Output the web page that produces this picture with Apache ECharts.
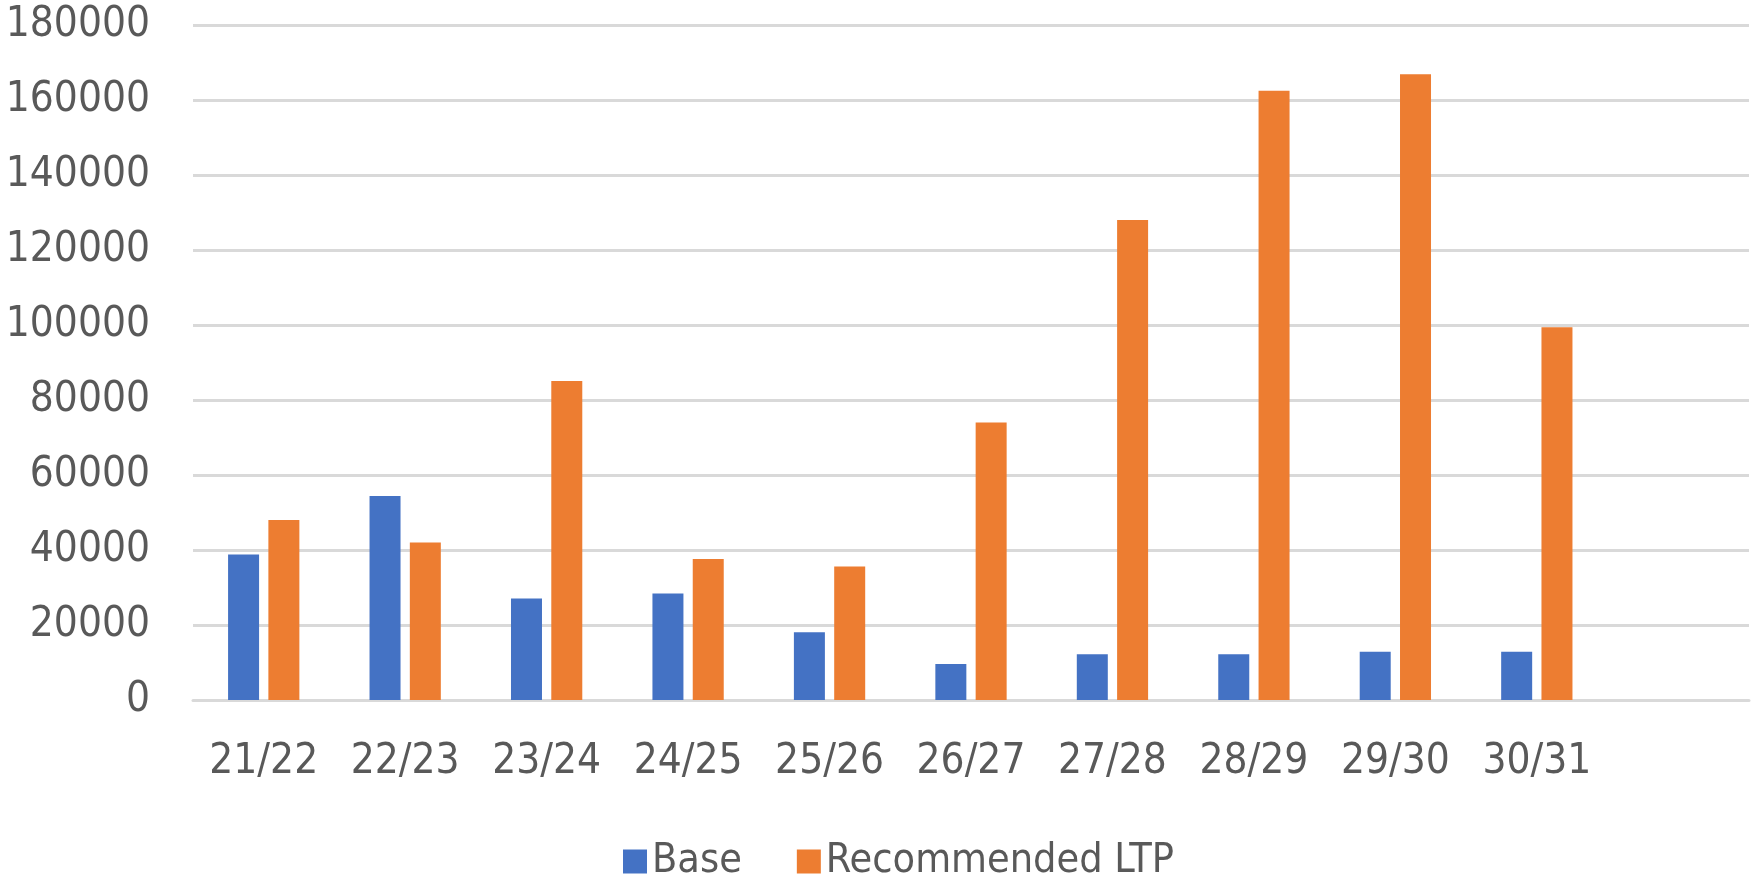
<!DOCTYPE html>
<html>
<head>
<meta charset="utf-8">
<script src="https://cdn.jsdelivr.net/npm/echarts@6/dist/echarts.min.js"></script>
<style>html,body{margin:0;padding:0;background:#fff}#c{width:1758px;height:878px}</style>
</head>
<body>
<div id="c"></div>
<script>
const categories = ['21/22','22/23','23/24','24/25','25/26','26/27','27/28','28/29','29/30','30/31',''];
const baseValues = [38800, 54400, 27100, 28400, 18100, 9600, 12200, 12200, 12900, 12900];
const ltpValues = [48000, 42000, 85100, 37600, 35600, 74000, 128000, 162500, 166900, 99400];
const seriesNames = ['Base', 'Recommended LTP'];
const yTicks = {min: 0, max: 180000, interval: 20000};

const FONT = '"DejaVu Sans Condensed", "Liberation Sans Narrow", "Liberation Sans", sans-serif';
const chart = echarts.init(document.getElementById('c'), null, {renderer: 'canvas'});
chart.setOption({
  animation: false,
  backgroundColor: '#ffffff',
  grid: {left: 193, right: 9, top: 25, bottom: 178, containLabel: false},
  legend: {
    data: seriesNames,
    left: 618, top: 836,
    itemWidth: 24, itemHeight: 24, itemGap: 55, itemTextGap: 10,
    icon: 'rect',
    textStyle: {fontFamily: FONT, fontSize: 41, color: '#595959'}
  },
  xAxis: {
    type: 'category',
    data: categories,
    axisTick: {show: false},
    axisLine: {show: true, lineStyle: {color: '#D9D9D9', width: 3}},
    axisLabel: {fontFamily: FONT, fontSize: 42, color: '#595959', margin: 41, interval: 0}
  },
  yAxis: {
    type: 'value',
    min: yTicks.min, max: yTicks.max, interval: yTicks.interval,
    axisLine: {show: false},
    axisTick: {show: false},
    splitLine: {lineStyle: {color: '#D9D9D9', width: 3}},
    axisLabel: {fontFamily: FONT, fontSize: 42, color: '#595959', margin: 43,
      formatter: v => String(v)}
  },
  series: [
    {name: seriesNames[0], type: 'bar', data: baseValues, barWidth: 31, barGap: '30%',
     itemStyle: {color: '#4472C4'}},
    {name: seriesNames[1], type: 'bar', data: ltpValues, barWidth: 31, barGap: '30%',
     itemStyle: {color: '#ED7D31'}}
  ]
});
</script>
</body>
</html>
